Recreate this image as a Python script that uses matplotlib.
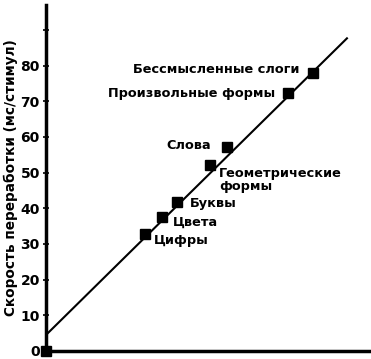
import matplotlib.pyplot as plt
import numpy as np

plt.rcParams['font.family'] = ['DejaVu Sans']
plt.rcParams['font.weight'] = 'bold'

# данные (ось X в условных единицах, подписей нет)
labels = ['Цифры', 'Цвета', 'Буквы', 'Геометрические\nформы', 'Слова',
          'Произвольные формы', 'Бессмысленные слоги']
x_vals = [30.5, 35.7, 40.3, 50.5, 55.7, 74.5, 82.2]
y_vals = [32.7, 37.7, 41.9, 52.2, 57.3, 72.3, 77.9]

fit_intercept = 4.5
fit_slope = 0.898
fit_x = [0, 92.6]

y_ticks = [0, 10, 20, 30, 40, 50, 60, 70, 80, 90]
y_ticklabels = ['0', '10', '20', '30', '40', '50', '60', '70', '80', '']

# смещения подписей (в пунктах) и выравнивание
offsets = [(6.5, -4.3, 'left'), (8, -4.3, 'left'), (9.4, -1.4, 'left'),
           (6.5, -10.8, 'left'), (-11.5, 0.7, 'right'), (-9.4, 0, 'right'),
           (-10, 2.9, 'right')]

fig = plt.figure(figsize=(3.71, 3.59), dpi=100)
ax = fig.add_axes([46 / 371, 8 / 359, 325 / 371, 346 / 359])

fx = np.array(fit_x)
ax.plot(fx, fit_intercept + fit_slope * fx, color='black', linewidth=1.5, zorder=2)
ax.plot(x_vals, y_vals, 's', color='black', markersize=6.5, zorder=3)
ax.plot([0], [0], 's', color='black', markersize=7.5, zorder=4, clip_on=False)

for x, y, lab, (dx, dy, ha) in zip(x_vals, y_vals, labels, offsets):
    ax.annotate(lab, (x, y), xytext=(dx, dy), textcoords='offset points',
                ha=ha, va='center', fontsize=9.3, fontweight='bold',
                linespacing=1.05)

ax.set_xlim(0, 100)
ax.set_ylim(0, 97)
ax.set_yticks(y_ticks)
ax.set_yticklabels(y_ticklabels, fontsize=10, fontweight='bold')
ax.set_xticks([])
ax.tick_params(axis='y', direction='inout', length=5, width=1.2, pad=2)

for side in ['top', 'right']:
    ax.spines[side].set_visible(False)
ax.spines['left'].set_linewidth(2.5)
ax.spines['bottom'].set_linewidth(2.5)

ax.set_ylabel('Скорость переработки (мс/стимул)', fontsize=9.8,
              fontweight='bold', labelpad=2)

fig.savefig('out.png', dpi=100)
